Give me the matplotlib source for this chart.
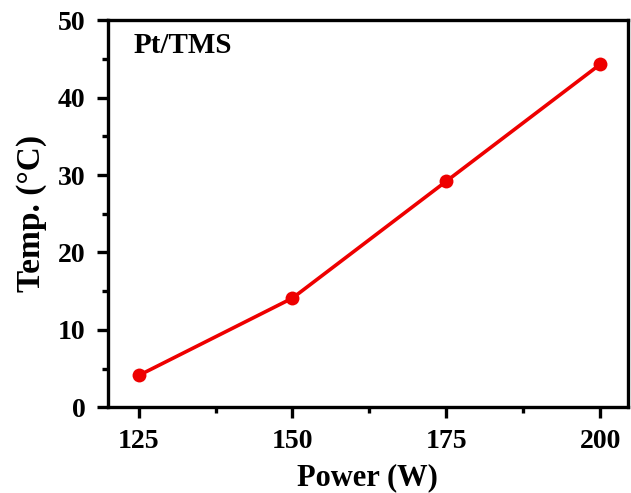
import matplotlib.pyplot as plt
from matplotlib.ticker import MultipleLocator

power_w = [125, 150, 175, 200]
temp_c = [4.1, 14.1, 29.2, 44.3]
sample_label = "Pt/TMS"

plt.rcParams["font.family"] = ["Liberation Serif", "DejaVu Serif"]
plt.rcParams["font.weight"] = "bold"

fig = plt.figure(figsize=(6.31, 4.93), dpi=100)
ax = fig.add_axes([0.171, 0.174, 0.824, 0.785])

ax.plot(power_w, temp_c, color="#ee0000", lw=2.6, marker="o", ms=10,
        markeredgewidth=0)

ax.set_xlim(120, 204.5)
ax.set_ylim(0, 50)
ax.xaxis.set_major_locator(MultipleLocator(25))
ax.xaxis.set_minor_locator(MultipleLocator(12.5))
ax.yaxis.set_major_locator(MultipleLocator(10))
ax.yaxis.set_minor_locator(MultipleLocator(5))

for s in ax.spines.values():
  s.set_linewidth(2.4)
ax.tick_params(which="major", direction="out", length=8, width=2.4, labelsize=20, pad=8)
ax.tick_params(which="minor", direction="out", length=4, width=2.4)
for lab in ax.get_xticklabels() + ax.get_yticklabels():
  lab.set_fontweight("bold")

ax.set_xlabel("Power (W)", fontsize=22, fontweight="bold", labelpad=6)
ax.set_ylabel("Temp. (°C)", fontsize=24, fontweight="bold", labelpad=8)
ax.text(0.05, 0.97, sample_label, transform=ax.transAxes, fontsize=21,
        fontweight="bold", va="top", ha="left")

fig.savefig("out.png", dpi=100)
